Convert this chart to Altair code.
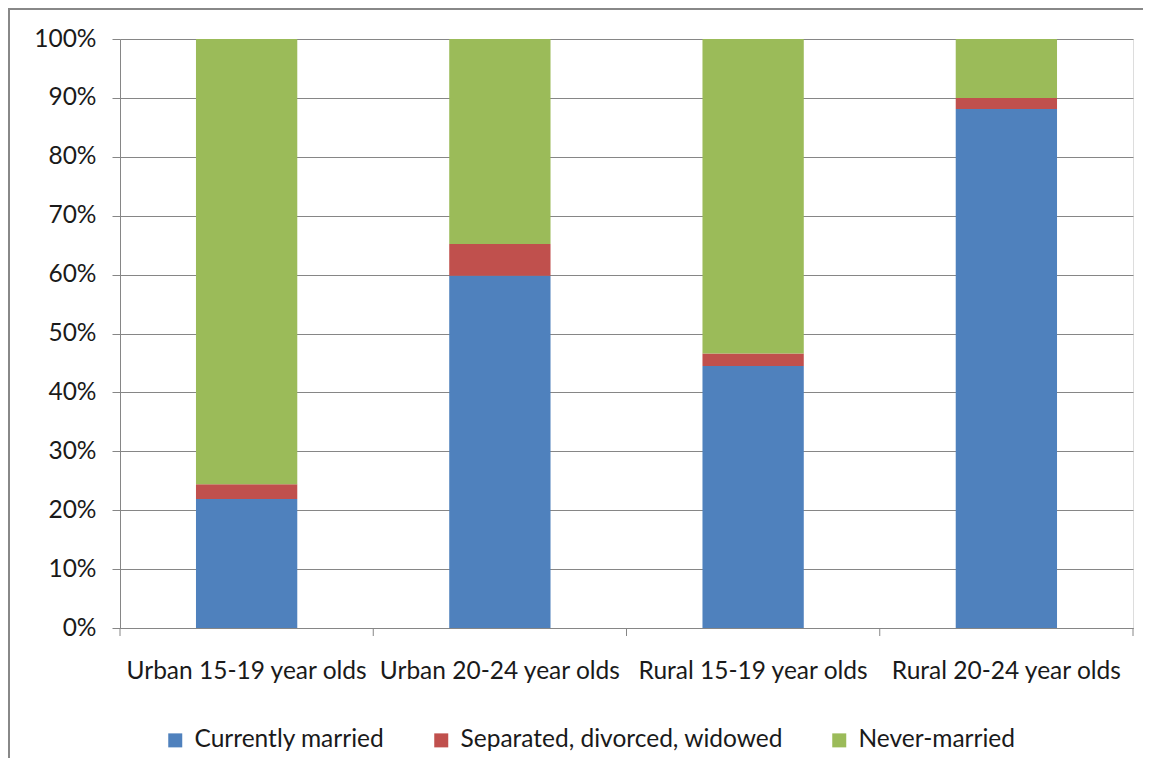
import altair as alt
import pandas as pd

categories = ["Urban 15-19 year olds", "Urban 20-24 year olds", "Rural 15-19 year olds", "Rural 20-24 year olds"]
series = ["Currently married", "Separated, divorced, widowed", "Never-married"]
married = [21.9, 59.8, 44.5, 88.1]
separated = [2.5, 5.4, 2.1, 1.9]
never = [75.6, 34.8, 53.4, 10.0]
colors = ["#4F81BD", "#C0504D", "#9BBB59"]
y_ticks = [0, 10, 20, 30, 40, 50, 60, 70, 80, 90, 100]

rows = []
for i, c in enumerate(categories):
    for k, (s, vals) in enumerate(zip(series, [married, separated, never])):
        rows.append({"group": c, "status": s, "value": vals[i], "order": k})
df = pd.DataFrame(rows)
cat_df = pd.DataFrame({"group": categories})

FONT = "Lato"
FS = 24.5
GRID = "#868686"
W, H = 1013, 589
PL, PT, PR, PB = 112, 31, 10, 130

xscale = alt.Scale(domain=categories, paddingInner=0.6, paddingOuter=0.3)

bars = alt.Chart(df).mark_bar(stroke=None).encode(
    x=alt.X("group:N", scale=xscale, sort=categories,
            axis=alt.Axis(title=None, labelAngle=0, ticks=False, labelPadding=31,
                          labelFontSize=FS, labelFont=FONT, labelColor="#1a1a1a",
                          labelLimit=0, domainColor=GRID, domainWidth=1)),
    y=alt.Y("value:Q", stack="zero",
            scale=alt.Scale(domain=[0, 100], nice=False),
            axis=alt.Axis(title=None, values=y_ticks, labelExpr="datum.value + '%'",
                          labelFontSize=FS, labelFont=FONT, labelColor="#1a1a1a",
                          labelPadding=16, tickSize=8, tickColor=GRID,
                          gridColor=GRID, gridWidth=1, domainColor=GRID)),
    color=alt.Color("status:N", scale=alt.Scale(domain=series, range=colors),
                    legend=alt.Legend(title=None, orient="none", direction="horizontal",
                                      legendX=43, legendY=689, symbolType="square",
                                      symbolSize=196, symbolStrokeWidth=0,
                                      labelFontSize=FS, labelFont=FONT, labelColor="#1a1a1a",
                                      labelLimit=0, columnPadding=44, labelOffset=7)),
    order=alt.Order("order:Q"),
)

ticks = alt.Chart(cat_df).mark_rule(color=GRID, strokeWidth=1).encode(
    x=alt.X("group:N", sort=categories, bandPosition=0,
            scale=alt.Scale(domain=categories, paddingInner=0, paddingOuter=0),
            axis=None),
    y=alt.value(H), y2=alt.value(H + 8),
)
end_tick = alt.Chart(cat_df.head(1)).mark_rule(color=GRID, strokeWidth=1).encode(
    x=alt.value(W), y=alt.value(H), y2=alt.value(H + 8),
)

# outer chart-area frame (decoration)
frame_top = alt.Chart(cat_df.head(1)).mark_rule(color="#888888", strokeWidth=2).encode(
    x=alt.value(-PL), x2=alt.value(W + PR), y=alt.value(-PT + 1),
)
frame_left = alt.Chart(cat_df.head(1)).mark_rule(color="#888888", strokeWidth=2).encode(
    x=alt.value(-PL + 1), y=alt.value(-PT), y2=alt.value(H + PB),
)

chart = alt.layer(bars, ticks, end_tick, frame_top, frame_left).resolve_scale(x="independent").properties(
    width=W, height=H,
    autosize=alt.AutoSizeParams(type="none"),
    padding={"left": PL, "top": PT, "right": PR, "bottom": PB},
).configure_view(stroke=None).configure(background="white")

chart.save("out.html", embed_options={"renderer": "svg", "actions": False})
